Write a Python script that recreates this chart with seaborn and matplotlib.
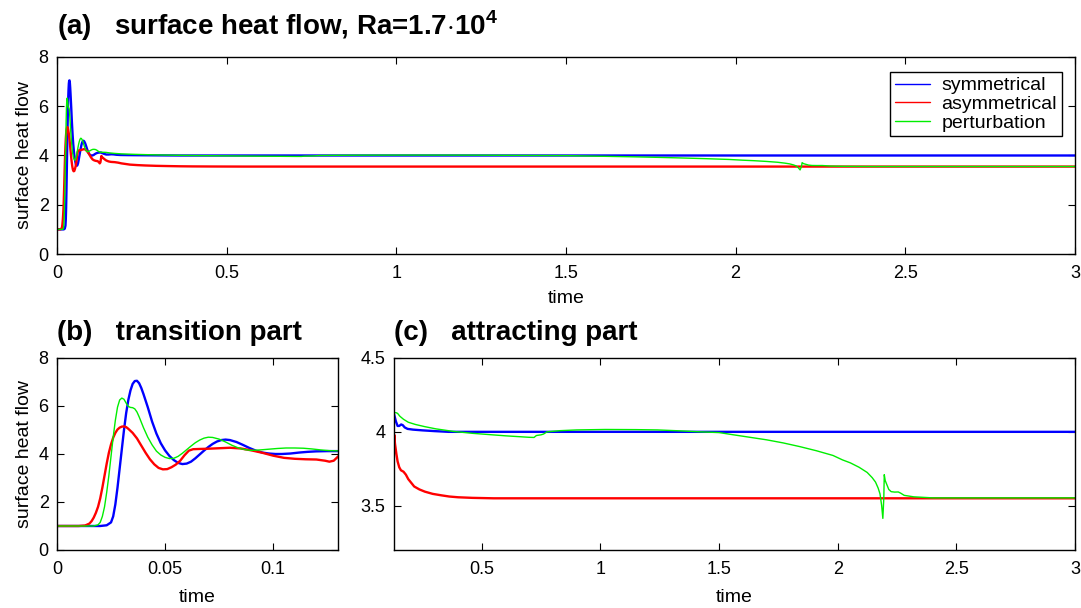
import matplotlib
matplotlib.use("Agg")
import matplotlib.pyplot as plt
from matplotlib.ticker import FormatStrFormatter, MultipleLocator
import seaborn as sns
import pandas as pd

# --- time series of surface heat flow (time, value) ---
sym_t = [0, 0.010, 0.020, 0.023, 0.025, 0.026, 0.027, 0.028, 0.029, 0.030,
         0.031, 0.032, 0.033, 0.034, 0.035, 0.036, 0.037, 0.038, 0.039, 0.040,
         0.042, 0.044, 0.046, 0.048, 0.050, 0.052, 0.054, 0.056, 0.058, 0.060,
         0.062, 0.064, 0.066, 0.068, 0.070, 0.072, 0.074, 0.076, 0.078, 0.080,
         0.083, 0.086, 0.089, 0.092, 0.095, 0.098, 0.101, 0.104, 0.108, 0.112,
         0.116, 0.120, 0.125, 0.130, 0.138, 0.145, 0.152, 0.160, 0.167, 0.175,
         0.187, 0.21, 0.25, 0.30, 0.36, 1.0, 2.0, 3.0]
sym_q = [1.0, 1.0, 1.0, 1.03, 1.15, 1.4, 1.9, 2.6, 3.4, 4.2,
         5.0, 5.7, 6.25, 6.65, 6.92, 7.04, 7.05, 6.95, 6.75, 6.5,
         5.95, 5.35, 4.85, 4.45, 4.15, 3.92, 3.75, 3.63, 3.58, 3.6,
         3.68, 3.82, 3.98, 4.14, 4.29, 4.42, 4.52, 4.58, 4.6, 4.58,
         4.5, 4.38, 4.25, 4.14, 4.06, 4.02, 4.0, 4.0, 4.02, 4.06,
         4.09, 4.11, 4.12, 4.12, 4.07, 4.04, 4.04, 4.05, 4.045, 4.03,
         4.02, 4.015, 4.01, 4.005, 4.0, 4.0, 4.0, 4.0]

asym_t = [0, 0.010, 0.013, 0.015, 0.016, 0.017, 0.018, 0.019, 0.020, 0.021,
          0.022, 0.023, 0.024, 0.025, 0.026, 0.027, 0.028, 0.029, 0.030, 0.031,
          0.032, 0.033, 0.035, 0.037, 0.039, 0.041, 0.043, 0.045, 0.047, 0.049,
          0.051, 0.053, 0.055, 0.057, 0.059, 0.061, 0.063, 0.066, 0.070, 0.075,
          0.080, 0.085, 0.090, 0.095, 0.100, 0.105, 0.110, 0.115, 0.120, 0.124,
          0.126, 0.128, 0.1295, 0.131, 0.134, 0.140, 0.145, 0.152, 0.159, 0.17,
          0.18, 0.19, 0.20, 0.215, 0.237, 0.26, 0.293, 0.33, 0.363, 0.40,
          0.46, 0.55, 1.0, 2.0, 3.0]
asym_q = [1.0, 1.0, 1.02, 1.1, 1.2, 1.35, 1.55, 1.8, 2.15, 2.6,
          3.1, 3.6, 4.05, 4.4, 4.68, 4.88, 5.02, 5.1, 5.14, 5.15,
          5.12, 5.05, 4.88, 4.65, 4.35, 4.05, 3.78, 3.57, 3.42, 3.36,
          3.37, 3.45, 3.56, 3.72, 3.95, 4.14, 4.2, 4.21, 4.22, 4.24,
          4.26, 4.23, 4.15, 4.05, 3.93, 3.84, 3.8, 3.78, 3.77, 3.72,
          3.68, 3.72, 3.85, 3.98, 3.92, 3.85, 3.80, 3.76, 3.74, 3.73,
          3.71, 3.68, 3.66, 3.63, 3.61, 3.595, 3.58, 3.57, 3.562, 3.557,
          3.553, 3.55, 3.55, 3.55, 3.55]

pert_t = [0, 0.010, 0.017, 0.019, 0.020, 0.021, 0.022, 0.023, 0.024, 0.025,
          0.026, 0.027, 0.028, 0.029, 0.030, 0.031, 0.032, 0.033, 0.034, 0.035,
          0.036, 0.037, 0.038, 0.040, 0.042, 0.044, 0.046, 0.048, 0.050, 0.052,
          0.054, 0.056, 0.058, 0.060, 0.062, 0.064, 0.066, 0.068, 0.070, 0.072,
          0.075, 0.078, 0.081, 0.084, 0.087, 0.090, 0.094, 0.098, 0.102, 0.106,
          0.110, 0.114, 0.118, 0.122, 0.126, 0.130, 0.138, 0.145, 0.155, 0.17,
          0.19, 0.22, 0.26, 0.307, 0.38, 0.46, 0.60, 0.70, 0.72, 0.73,
          0.75, 0.76, 0.775, 0.83, 0.90, 1.02, 1.15, 1.24, 1.33, 1.42,
          1.50, 1.56, 1.63, 1.70, 1.77, 1.84, 1.91, 1.98, 2.02, 2.053,
          2.09, 2.124, 2.145, 2.159, 2.17, 2.178, 2.185, 2.19, 2.194, 2.196,
          2.20, 2.206, 2.215, 2.225, 2.24, 2.255, 2.265, 2.28, 2.32, 2.40,
          3.0]
pert_q = [1.0, 1.0, 1.0, 1.05, 1.15, 1.4, 1.8, 2.4, 3.1, 3.9,
          4.7, 5.4, 5.95, 6.25, 6.33, 6.28, 6.12, 5.98, 5.94, 5.93,
          5.88, 5.75, 5.55, 5.1, 4.7, 4.38, 4.12, 3.96, 3.86, 3.81,
          3.82, 3.9, 4.03, 4.18, 4.33, 4.47, 4.58, 4.66, 4.7, 4.69,
          4.62, 4.5, 4.36, 4.25, 4.18, 4.15, 4.17, 4.2, 4.23, 4.25,
          4.25, 4.24, 4.21, 4.17, 4.14, 4.13, 4.13, 4.125, 4.105, 4.085,
          4.065, 4.05, 4.035, 4.02, 4.003, 3.99, 3.973, 3.963, 3.962, 3.975,
          3.98, 3.985, 4.0, 4.008, 4.013, 4.016, 4.015, 4.013, 4.007, 4.0,
          3.995, 3.98, 3.963, 3.946, 3.925, 3.90, 3.872, 3.84, 3.81, 3.79,
          3.76, 3.725, 3.69, 3.66, 3.62, 3.58, 3.50, 3.414, 3.55, 3.71,
          3.67, 3.646, 3.61, 3.595, 3.592, 3.593, 3.585, 3.57, 3.56, 3.553,
          3.553]

series_names = ["symmetrical", "asymmetrical", "perturbation"]
series_data = [(sym_t, sym_q), (asym_t, asym_q), (pert_t, pert_q)]
series_colors = ["#0000ff", "#ff0000", "#00ee00"]
series_widths = [1.7, 1.7, 1.0]

frames = {name: pd.DataFrame({"time": t, "flow": q})
          for name, (t, q) in zip(series_names, series_data)}

sns.set_theme(style="white")
plt.rcParams["font.family"] = ["Liberation Sans", "DejaVu Sans"]
plt.rcParams["mathtext.fontset"] = "custom"
plt.rcParams["mathtext.rm"] = "Liberation Sans:bold"
plt.rcParams["mathtext.bf"] = "Liberation Sans:bold"
for key in ("text.color", "axes.labelcolor", "xtick.color", "ytick.color",
            "axes.edgecolor"):
    plt.rcParams[key] = "black"

TICK_FS = 13
LABEL_FS = 14
TITLE_FS = 20

fig = plt.figure(figsize=(10.81, 6.08), dpi=100)
fig.patch.set_facecolor("white")

ax_a = fig.add_axes([0.0527, 0.5822, 0.9417, 0.3241])
ax_b = fig.add_axes([0.0527, 0.0954, 0.2600, 0.3158])
ax_c = fig.add_axes([0.3645, 0.0954, 0.6300, 0.3158])


def draw(ax):
    for name, col, lw in zip(series_names, series_colors, series_widths):
        sns.lineplot(data=frames[name], x="time", y="flow", ax=ax, color=col,
                     linewidth=lw, label=name, estimator=None, sort=False,
                     legend=False)


def style(ax, xlabelpad):
    ax.set_facecolor("white")
    for sp in ax.spines.values():
        sp.set_visible(True)
        sp.set_color("black")
        sp.set_linewidth(1.0)
    ax.tick_params(direction="in", length=5, width=0.8, top=True, right=True,
                   bottom=True, left=True, labelsize=TICK_FS, colors="black",
                   pad=6)
    ax.tick_params(axis="x", pad=8)
    ax.xaxis.set_major_formatter(FormatStrFormatter("%g"))
    ax.yaxis.set_major_formatter(FormatStrFormatter("%g"))
    ax.grid(False)
    ax.set_xlabel("time", fontsize=LABEL_FS, color="black",
                  labelpad=xlabelpad)


for ax, lp in ((ax_a, 6), (ax_b, 8), (ax_c, 8)):
    draw(ax)
    style(ax, lp)

# (a) full run
ax_a.set_xlim(0, 3)
ax_a.set_ylim(0, 8)
ax_a.xaxis.set_major_locator(MultipleLocator(0.5))
ax_a.yaxis.set_major_locator(MultipleLocator(2))
ax_a.set_ylabel("surface heat flow", fontsize=LABEL_FS, color="black",
                labelpad=4)
ax_a.set_title(r"(a)   surface heat flow, Ra=1.7$\cdot$10$^{4}$",
               loc="left", fontsize=TITLE_FS, fontweight="bold", pad=16)
handles = ax_a.get_lines()[:3]
leg = ax_a.legend(handles=handles, labels=series_names, loc="upper right",
                  fontsize=LABEL_FS, frameon=True, fancybox=False,
                  framealpha=1, edgecolor="black", borderpad=0.25,
                  handlelength=1.8, handletextpad=0.6, labelspacing=0.05,
                  borderaxespad=0, bbox_to_anchor=(0.987, 0.924))
leg.get_frame().set_linewidth(1.0)
for line in leg.get_lines():
    line.set_linewidth(1.0)

# (b) transition part
ax_b.set_xlim(0, 0.13)
ax_b.set_ylim(0, 8)
ax_b.xaxis.set_major_locator(MultipleLocator(0.05))
ax_b.yaxis.set_major_locator(MultipleLocator(2))
ax_b.set_ylabel("surface heat flow", fontsize=LABEL_FS, color="black",
                labelpad=4)
ax_b.set_title("(b)   transition part", loc="left", fontsize=TITLE_FS,
               fontweight="bold", pad=13)

# (c) attracting part
ax_c.set_xlim(0.13, 3)
ax_c.set_ylim(3.2, 4.5)
ax_c.xaxis.set_major_locator(MultipleLocator(0.5))
ax_c.yaxis.set_major_locator(MultipleLocator(0.5))
ax_c.set_ylabel("")
ax_c.set_title("(c)   attracting part", loc="left", fontsize=TITLE_FS,
               fontweight="bold", pad=13)

fig.savefig("out.png", dpi=100, facecolor="white")
